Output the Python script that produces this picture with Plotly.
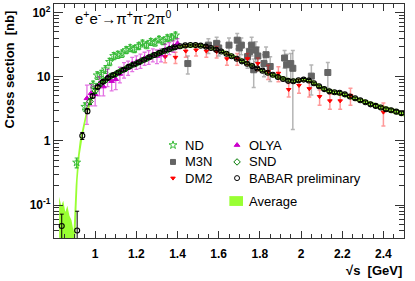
import plotly.graph_objects as go

FONT = "Liberation Sans, Arial, Helvetica, sans-serif"

# ---------------- data ----------------
nd_x = [0.91, 0.95, 0.99, 1.01, 1.03, 1.05, 1.07, 1.09, 1.11, 1.13, 1.15, 1.17, 1.19, 1.21, 1.23, 1.25, 1.27, 1.29, 1.31, 1.33, 1.35, 1.37, 1.39]
nd_y = [0.46, 3.4, 7.5, 10.5, 11.0, 13.0, 17.0, 21.0, 22.0, 23.0, 26.0, 28.0, 27.0, 30.0, 33.0, 31.0, 35.0, 34.0, 38.0, 36.0, 40.0, 41.0, 44.0]
nd_e = [0.08, 0.5, 1.0, 1.4, 1.5, 1.8, 2.2, 2.6, 2.8, 3.0, 3.2, 3.4, 3.4, 3.6, 4.0, 3.8, 4.2, 4.1, 4.5, 4.4, 4.8, 5.0, 5.3]

m3n_x = [1.45, 1.55, 1.59, 1.60, 1.65, 1.69, 1.70, 1.71, 1.74, 1.75, 1.76, 1.77, 1.78, 1.79, 1.82, 1.83, 1.85, 1.92, 1.93, 1.95, 1.96, 2.05, 2.13]
m3n_y = [16.0, 31.0, 33.0, 28.0, 31.0, 37.0, 28.0, 31.0, 20.5, 24.5, 31.0, 12.8, 26.0, 21.0, 16.0, 22.0, 14.4, 19.5, 15.3, 16.0, 13.5, 10.2, 11.6]
m3n_e = [5, 8, 8, 7, 9, 10, 8, 9, 7, 8, 10, 6, 9, 8, 6, 7, 6, 6, 7, 7, 12, 5, 5]

dm2_x = [1.34, 1.39, 1.44, 1.49, 1.54, 1.59, 1.64, 1.69, 1.74, 1.79, 1.84, 1.89, 1.94, 1.99, 2.04, 2.09, 2.14, 2.19, 2.24, 2.40]
dm2_y = [20.5, 20.0, 25.0, 26.0, 25.0, 24.5, 19.0, 19.0, 19.0, 16.0, 12.0, 11.3, 6.3, 7.3, 6.5, 4.9, 4.2, 4.2, 5.1, 2.8]
dm2_e = [4, 4, 5, 5, 5, 5, 4, 4, 4, 3.5, 3, 3, 1.5, 1.8, 1.7, 1.3, 1.1, 1.1, 1.5, 1.1]

olya_x = [0.96, 0.98, 1.0, 1.02, 1.04, 1.06, 1.08, 1.1, 1.12, 1.14, 1.16, 1.18, 1.2, 1.22, 1.24, 1.26, 1.28, 1.3, 1.32, 1.34, 1.36, 1.38, 1.4]
olya_y = [4.6, 5.5, 5.3, 7.5, 7.0, 10.0, 8.5, 9.1, 11.0, 13.0, 14.0, 16.0, 17.0, 18.0, 19.5, 20.5, 22.0, 21.0, 22.0, 26.0, 28.0, 30.0, 33.0]
olya_e = [2.8, 2.0, 1.8, 2.5, 2.0, 3.0, 2.5, 2.8, 3, 3.5, 3.5, 4, 4, 4.5, 4.5, 5, 5, 5, 5, 6, 6, 6, 6]

snd_x = [0.975, 1.0, 1.025, 1.05, 1.075, 1.1, 1.125, 1.15, 1.175, 1.2, 1.225, 1.25, 1.275, 1.3, 1.325, 1.35, 1.375]
snd_y = [4.1, 6.0, 7.7, 8.8, 10.2, 11.0, 12.3, 13.3, 14.8, 15.9, 17.6, 19.0, 20.9, 22.4, 24.5, 25.9, 27.9]
snd_e = [0.4, 0.5, 0.6, 0.6, 0.7, 0.7, 0.8, 0.8, 0.9, 0.9, 1.0, 1.0, 1.1, 1.2, 1.3, 1.3, 1.4]

babar_x = [0.8375, 0.9125, 0.9375, 0.9625, 0.9875, 1.0125, 1.0375, 1.0625, 1.0875, 1.1125,
           1.1375, 1.1625, 1.1875, 1.2125, 1.2375, 1.2625, 1.2875, 1.3125, 1.3375, 1.3625,
           1.3875, 1.4125, 1.4375, 1.4625, 1.4875, 1.5125, 1.5375, 1.5625, 1.5875, 1.6125,
           1.6375, 1.6625, 1.6875, 1.7125, 1.7375, 1.7625, 1.7875, 1.8125, 1.8375, 1.8625,
           1.8875, 1.9125, 1.9375, 1.9625, 1.9875, 2.0125, 2.0375, 2.0625, 2.0875, 2.1125,
           2.1375, 2.1625, 2.1875, 2.2125, 2.2375, 2.2625, 2.2875, 2.3125, 2.3375, 2.3625,
           2.3875, 2.4125, 2.4375, 2.4625, 2.4875]
babar_y = [0.047, 0.04, 1.2, 2.9, 5.0, 6.9, 8.3, 9.5, 10.6, 11.6,
           12.8, 14.2, 15.5, 16.8, 18.3, 20.0, 21.8, 23.5, 25.3, 27.0,
           28.6, 29.8, 30.7, 31.1, 31.0, 30.4, 29.4, 27.9, 26.3, 24.6,
           22.7, 20.8, 19.0, 17.3, 15.9, 14.6, 13.4, 12.4, 11.5, 10.7,
           9.9, 9.2, 8.6, 8.5, 8.8, 9.0, 8.7, 7.9, 7.1, 6.4,
           5.9, 5.7, 5.6, 5.3, 4.9, 4.6, 4.3, 4.0, 3.7, 3.5,
           3.3, 3.1, 3.0, 2.85, 2.7]
babar_e = [0.025, 0.04, 0.15, 0.25, 0.35, 0.4, 0.45, 0.5, 0.5, 0.55,
           0.6, 0.6, 0.65, 0.7, 0.7, 0.75, 0.8, 0.8, 0.85, 0.9,
           0.9, 0.95, 0.95, 0.95, 0.95, 0.95, 0.9, 0.9, 0.85, 0.8,
           0.75, 0.7, 0.65, 0.6, 0.55, 0.5, 0.5, 0.45, 0.45, 0.4,
           0.4, 0.35, 0.35, 0.35, 0.35, 0.35, 0.35, 0.3, 0.3, 0.28,
           0.26, 0.25, 0.25, 0.24, 0.22, 0.21, 0.2, 0.19, 0.18, 0.17,
           0.16, 0.16, 0.15, 0.15, 0.14]

avg_x = [0.825, 0.835, 0.845, 0.855, 0.865, 0.875, 0.885, 0.895, 0.905, 0.915, 0.925, 0.94, 0.96, 0.98,
         1.0, 1.03, 1.06, 1.1, 1.15, 1.2, 1.25, 1.3, 1.35, 1.4, 1.45, 1.5, 1.55, 1.6, 1.65, 1.7,
         1.75, 1.8, 1.85, 1.9, 1.95, 1.975, 2.0, 2.025, 2.05, 2.1, 2.15, 2.2, 2.25, 2.3, 2.35, 2.4, 2.45, 2.5]
avg_y = [0.07, 0.05, 0.06, 0.04, 0.05, 0.035, 0.03, 0.02, 0.12, 0.4, 0.8, 1.45, 2.9, 4.4,
         6.2, 8.3, 9.6, 11.3, 13.8, 16.2, 19.3, 22.8, 26.3, 29.2, 30.6, 30.8, 29.3, 26.1, 22.2, 18.4,
         15.3, 12.8, 11.0, 9.6, 8.6, 8.6, 8.9, 9.0, 8.4, 6.7, 5.8, 5.4, 4.7, 4.15, 3.65, 3.25, 2.9, 2.65]
avg_e = [0.065, 0.047, 0.057, 0.038, 0.047, 0.033, 0.028, 0.019, 0.08, 0.15, 0.2, 0.25, 0.4, 0.5,
         0.6, 0.7, 0.8, 0.9, 1.2, 1.4, 1.6, 1.8, 2.0, 2.2, 2.3, 2.3, 2.2, 2.0, 1.7, 1.4,
         1.2, 1.0, 0.85, 0.75, 0.65, 0.65, 0.65, 0.65, 0.65, 0.55, 0.5, 0.45, 0.4, 0.35, 0.3, 0.3, 0.28, 0.26]

y_major = [0.1, 1, 10, 100]
y_major_text = ["10<sup>-1</sup>", "1", "10", "10<sup>2</sup>"]
y_minor = [0.03, 0.04, 0.05, 0.06, 0.07, 0.08, 0.09,
           0.2, 0.3, 0.4, 0.5, 0.6, 0.7, 0.8, 0.9,
           2, 3, 4, 5, 6, 7, 8, 9,
           20, 30, 40, 50, 60, 70, 80, 90]
x_ticks = [1.0, 1.2, 1.4, 1.6, 1.8, 2.0, 2.2, 2.4]
x_ticktext = ["1", "1.2", "1.4", "1.6", "1.8", "2", "2.2", "2.4"]

# ---------------- figure ----------------
fig = go.Figure()

avg_hi = [y + e for y, e in zip(avg_y, avg_e)]
avg_lo = [max(y - e, 1e-4) for y, e in zip(avg_y, avg_e)]
fig.add_trace(go.Scatter(x=avg_x + avg_x[::-1], y=avg_hi + avg_lo[::-1], fill="toself",
                         fillcolor="#99ff33", line=dict(width=0), mode="lines", hoverinfo="skip"))


def pts(x, y, e, symbol, color, ecolor, size, lw=1.0, ethick=1.2):
    fig.add_trace(go.Scatter(
        x=x, y=y, mode="markers",
        marker=dict(symbol=symbol, size=size, color=color, line=dict(color=color, width=lw)),
        error_y=dict(type="data", array=e, visible=True, color=ecolor, thickness=ethick, width=2),
    ))


pts(nd_x, nd_y, nd_e, "star-open", "#38bb38", "#38bb38", 6)
pts(m3n_x, m3n_y, m3n_e, "square", "#646464", "rgba(120,120,120,0.55)", 6, ethick=1.5)
pts(dm2_x, dm2_y, dm2_e, "triangle-down", "#ff0000", "rgba(255,0,0,0.4)", 4, ethick=1.5)
pts(olya_x, olya_y, olya_e, "triangle-up", "#cc00cc", "rgba(204,0,204,0.55)", 5, ethick=1.3)
pts(snd_x, snd_y, snd_e, "diamond-open", "#007a00", "#007a00", 5)
pts(babar_x, babar_y, babar_e, "circle-open", "#000000", "#000000", 5, lw=1.1, ethick=1.0)

# legend (drawn on an invisible overlay axis spanning the frame)
leg_names = ["ND", "M3N", "DM2", "OLYA", "SND", "BABAR preliminary"]
leg_symbols = ["star-open", "square", "triangle-down", "triangle-up", "diamond-open", "circle-open"]
leg_colors = ["#38bb38", "#646464", "#ff0000", "#cc00cc", "#007a00", "#000000"]
leg_sizes = [6, 5, 4, 5, 5, 5]
leg_col_x = [0.34, 0.34, 0.34, 0.523, 0.523, 0.523]
leg_row_y = [0.397, 0.325, 0.256, 0.397, 0.325, 0.256]
for n, s, c, sz, lx, ly in zip(leg_names, leg_symbols, leg_colors, leg_sizes, leg_col_x, leg_row_y):
    fig.add_trace(go.Scatter(x=[lx], y=[ly], xaxis="x3", yaxis="y3", mode="markers",
                             marker=dict(symbol=s, size=sz, color=c, line=dict(color=c, width=1)),
                             hoverinfo="skip"))
    fig.add_annotation(x=lx + 0.028, y=ly, xref="paper", yref="paper", text=n, showarrow=False,
                       xanchor="left", yanchor="middle", font=dict(family=FONT, size=13, color="black"))

fig.add_shape(type="rect", xref="paper", yref="paper", x0=0.501, x1=0.54, y0=0.137, y1=0.179,
              fillcolor="#99ff33", line=dict(width=0))
fig.add_annotation(x=0.551, y=0.158, xref="paper", yref="paper", text="Average", showarrow=False,
                   xanchor="left", yanchor="middle", font=dict(family=FONT, size=13, color="black"))

# process label
fig.add_annotation(x=0.054, y=0.944, xref="paper", yref="paper",
                   text="e<sup>+</sup>e<sup>-</sup>→π<sup>+</sup>π<sup>-</sup>2π<sup>0</sup>",
                   showarrow=False, xanchor="left", yanchor="middle",
                   font=dict(family=FONT, size=15, color="black"))
# axis titles
fig.add_annotation(x=-0.126, y=0.72, xref="paper", yref="paper", text="Cross section\u00a0\u00a0[nb]",
                   textangle=-90, showarrow=False, xanchor="center", yanchor="middle",
                   font=dict(family=FONT, size=13, color="black", weight="bold"))
fig.add_annotation(x=1.0, y=-0.137, xref="paper", yref="paper", text="√s\u00a0\u00a0[GeV]",
                   showarrow=False, xanchor="right", yanchor="middle",
                   font=dict(family=FONT, size=13, color="black", weight="bold"))

AX = "#333333"
fig.update_layout(
    width=415, height=281,
    margin=dict(l=54, r=11, t=4, b=43),
    paper_bgcolor="white", plot_bgcolor="white",
    showlegend=False,
    xaxis=dict(range=[0.8, 2.5], tickvals=x_ticks, ticktext=x_ticktext,
               ticks="inside", ticklen=7, tickwidth=1, tickcolor=AX,
               minor=dict(dtick=0.05, tick0=0.8, ticks="inside", ticklen=4, tickcolor=AX, tickwidth=1),
               showline=True, linecolor=AX, linewidth=1.3, mirror="ticks",
               showgrid=False, zeroline=False, ticklabelstandoff=4,
               tickfont=dict(family=FONT, size=12, color="black", weight="bold")),
    yaxis=dict(type="log", range=[-1.514, 2.132], tickvals=y_major, ticktext=y_major_text,
               ticks="inside", ticklen=9, tickwidth=1, tickcolor=AX,
               showline=True, linecolor=AX, linewidth=1.3, mirror="ticks",
               showgrid=False, zeroline=False,
               tickfont=dict(family=FONT, size=12, color="black", weight="bold")),
    yaxis2=dict(type="log", range=[-1.514, 2.132], overlaying="y", side="left", anchor="x",
                tickvals=y_minor, ticks="inside", ticklen=5, tickwidth=1, tickcolor=AX,
                showticklabels=False, showline=True, linecolor=AX, linewidth=1.3, mirror="ticks",
                showgrid=False, zeroline=False),
    xaxis3=dict(range=[0, 1], overlaying="x", anchor="y3", visible=False),
    yaxis3=dict(range=[0, 1], overlaying="y", anchor="x3", visible=False),
)

fig.add_trace(go.Scatter(x=[None], y=[None], yaxis="y2", hoverinfo="skip"))

fig.write_html("out.html", config={"displayModeBar": False},
               post_script="document.body.style.margin='0px';document.body.style.overflow='hidden';")
